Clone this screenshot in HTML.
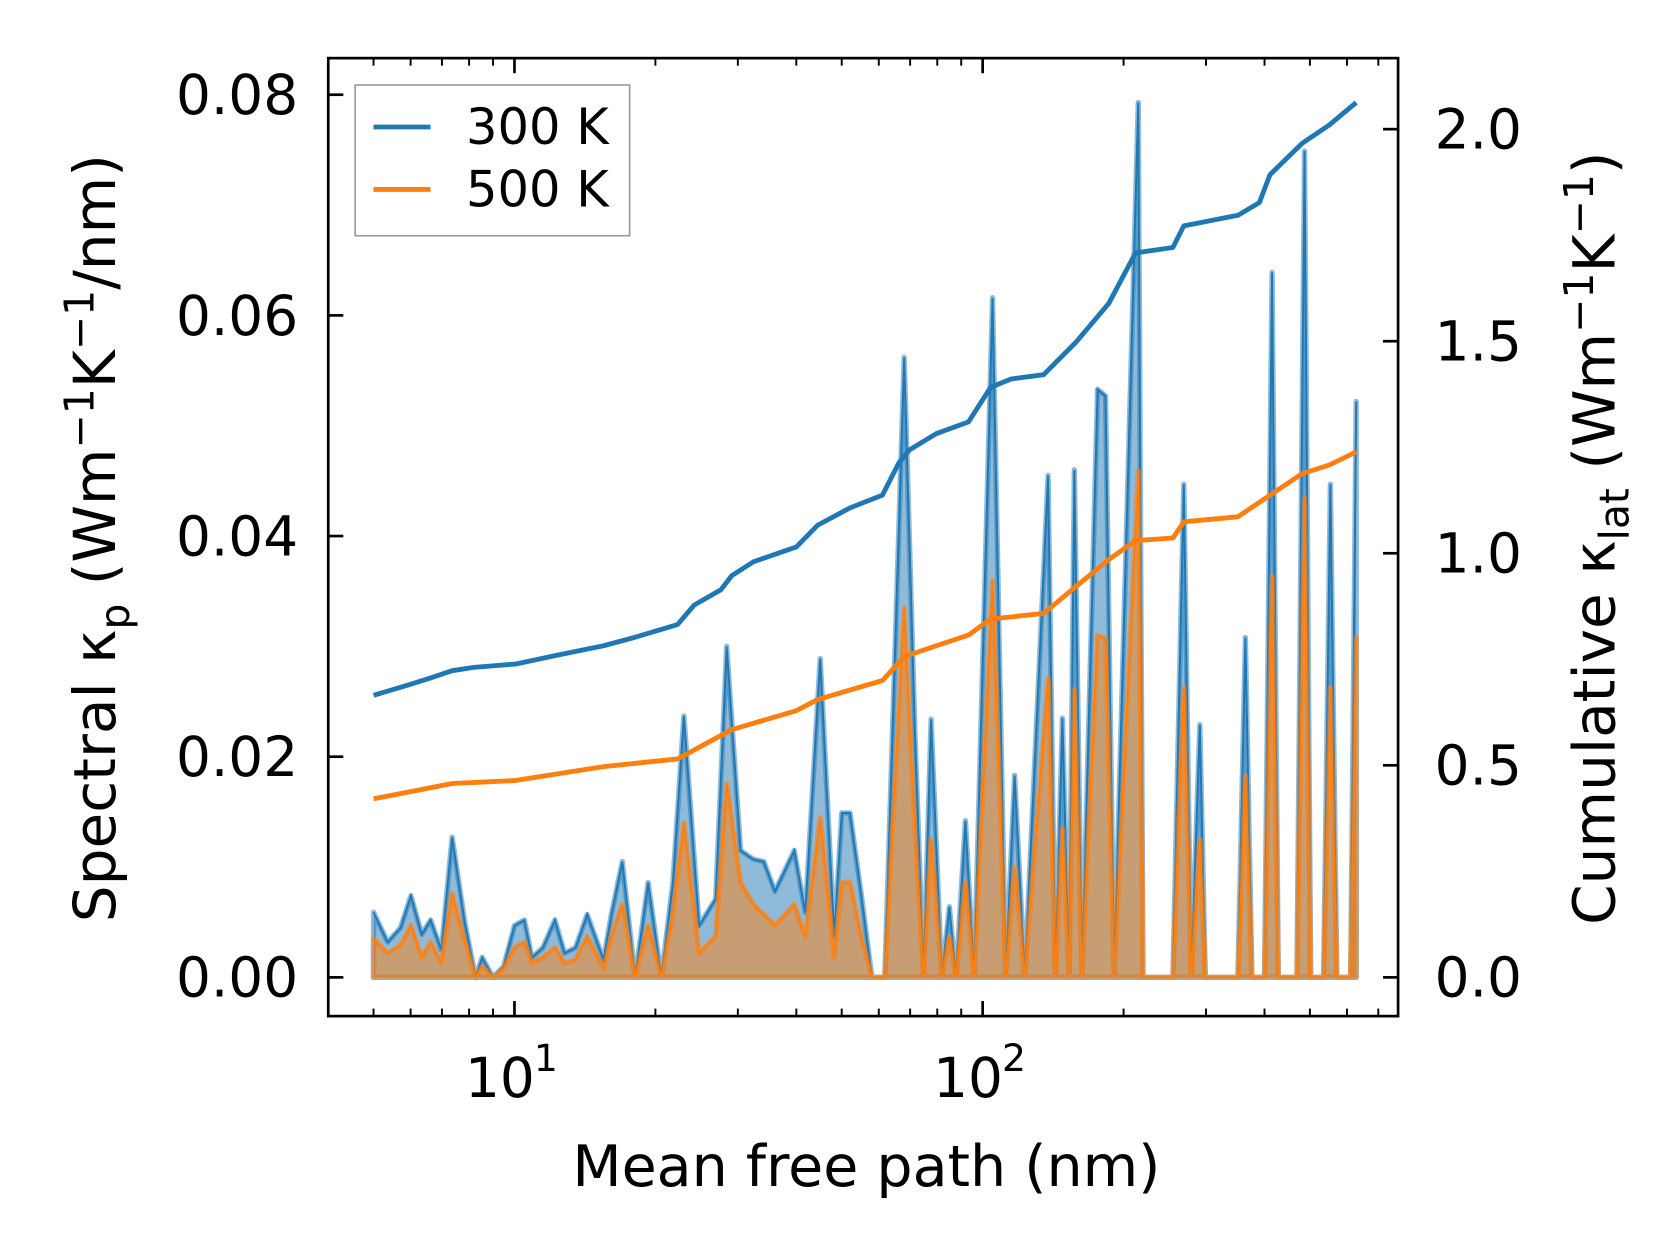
<!DOCTYPE html>
<html><head><meta charset="utf-8"><style>
html,body{margin:0;padding:0;background:#fff;}
svg{display:block;font-family:"DejaVu Sans","Liberation Sans",sans-serif;}
</style></head><body>
<svg id="chart" width="1679" height="1254" viewBox="0 0 1560 1165" preserveAspectRatio="none" xmlns="http://www.w3.org/2000/svg">
<rect width="1560" height="1165" fill="#fff"/>
<g id="plot"></g>
<rect x="305" y="54" width="994" height="890" fill="none" stroke="#000" stroke-width="2.5"/>
<g id="ticks"></g>
<text transform="translate(107,500) rotate(-90)" text-anchor="middle" font-size="54">Spectral κ<tspan font-size="38" dy="13">p</tspan><tspan dy="-13"> (Wm</tspan><tspan font-size="38" dy="-20">−1</tspan><tspan dy="20">K</tspan><tspan font-size="38" dy="-20">−1</tspan><tspan dy="20">/nm)</tspan></text>
<text transform="translate(1500,500) rotate(-90)" text-anchor="middle" font-size="54">Cumulative κ<tspan font-size="38" dy="13">lat</tspan><tspan dy="-13"> (Wm</tspan><tspan font-size="38" dy="-20">−1</tspan><tspan dy="20">K</tspan><tspan font-size="38" dy="-20">−1</tspan><tspan dy="20">)</tspan></text>
<text x="805" y="1102" text-anchor="middle" font-size="53">Mean free path (nm)</text>
<g>
<rect x="330" y="79" width="255" height="140" fill="#fff" fill-opacity="0.8" stroke="#999" stroke-width="1.5"/>
<line x1="347" y1="118" x2="400" y2="118" stroke="#1f77b4" stroke-width="4.5"/>
<text x="433" y="134" font-size="46">300 K</text>
<line x1="347" y1="176" x2="400" y2="176" stroke="#ff7f0e" stroke-width="4.5"/>
<text x="433" y="192" font-size="46">500 K</text>
</g>
</svg>
<script>
const specMfp=[5.00,5.36,5.71,6.01,6.34,6.62,6.98,7.36,7.84,8.26,8.53,9.00,9.48,10.0,10.5,10.9,11.5,12.2,12.8,13.5,14.3,15.5,16.1,17.0,18.1,19.3,20.6,21.8,23.0,24.8,26.9,28.4,30.4,32.4,34.1,36.0,39.6,41.8,45.0,48.2,50.0,52.1,55.0,58.0,61.8,68.0,71.6,74.8,77.6,81.8,84.9,87.7,91.9,95.9,105,112,117,123,138,143,148,153,157,163,176,183,191,215,220,255,269,279,291,299,351,364,376,400,415,428,469,487,502,535,553,571,611,628];
const spec300=[0.0059,0.0032,0.0045,0.0074,0.0039,0.0052,0.0025,0.0127,0.0049,0,0.0018,0,0.0010,0.0047,0.0052,0.0018,0.0027,0.0052,0.0022,0.0027,0.0057,0.0016,0.0057,0.0105,0,0.0086,0,0.0086,0.0237,0.0047,0.0071,0.0300,0.0115,0.0107,0.0105,0.0078,0.0115,0.0059,0.0289,0.0037,0.0149,0.0149,0.0076,0,0,0.0562,0.0228,0,0.0234,0,0.0064,0,0.0142,0,0.0616,0,0.0183,0,0.0455,0,0.0235,0,0.0460,0,0.0533,0.0527,0,0.0793,0,0,0.0447,0,0.0229,0,0,0.0308,0,0,0.0639,0,0,0.0749,0,0,0.0447,0,0,0.0522];
const spec500=[0.0035,0.0022,0.0029,0.0047,0.0018,0.0032,0.0013,0.0076,0.0032,0,0.0010,0,0.0008,0.0027,0.0032,0.0013,0.0018,0.0027,0.0013,0.0016,0.0037,0.0008,0.0037,0.0066,0,0.0047,0,0.0057,0.0140,0.0022,0.0037,0.0176,0.0086,0.0066,0.0057,0.0047,0.0066,0.0037,0.0145,0.0018,0.0086,0.0086,0.0037,0,0,0.0335,0.0135,0,0.0125,0,0.0037,0,0.0086,0,0.0360,0,0.0100,0,0.0271,0,0.0135,0,0.0261,0,0.0310,0.0307,0,0.0459,0,0,0.0263,0,0.0125,0,0,0.0183,0,0,0.0364,0,0,0.0434,0,0,0.0263,0,0,0.0308];
const cum300Mfp=[5.0,5.96,6.62,7.36,8.18,10.1,12.5,15.5,18.1,22.3,24.2,27.6,29.1,32.4,40.0,44.4,52.1,61.1,66.2,69.8,79.6,93.3,104,115,135,158,186,212,255,269,351,390,411,482,550,628];
const cum300=[0.665,0.690,0.706,0.723,0.731,0.739,0.761,0.782,0.802,0.832,0.878,0.914,0.947,0.980,1.015,1.066,1.107,1.137,1.213,1.244,1.282,1.310,1.391,1.411,1.421,1.497,1.589,1.708,1.721,1.772,1.797,1.827,1.893,1.967,2.010,2.063];
const cum500Mfp=[5.0,7.36,10.0,15.5,22.3,29.1,40.0,44.4,61.1,68.0,79.6,93.3,104,135,158,186,212,255,269,351,411,482,550,628];
const cum500=[0.421,0.457,0.464,0.497,0.515,0.584,0.629,0.655,0.700,0.756,0.782,0.807,0.845,0.858,0.921,0.985,1.030,1.036,1.074,1.086,1.137,1.188,1.208,1.239];
const leftTicks=[0,0.02,0.04,0.06,0.08];
const leftTickLabels=["0.00","0.02","0.04","0.06","0.08"];
const rightTicks=[0,0.5,1,1.5,2];
const rightTickLabels=["0.0","0.5","1.0","1.5","2.0"];

const NS="http://www.w3.org/2000/svg";
const X=v=>478+(Math.log10(v)-1)*435;
const YL=v=>908-v*10250;
const YR=v=>908-v*394;
const plot=document.getElementById('plot'), tk=document.getElementById('ticks');
function mk(tag,attrs,parent){const e=document.createElementNS(NS,tag);for(const k in attrs)e.setAttribute(k,attrs[k]);parent.appendChild(e);return e;}
function pts(xs,ys,fy){return xs.map((x,i)=>X(x).toFixed(1)+','+fy(ys[i]).toFixed(1)).join(' ');}
function area(xs,ys,color,name){
  const p=pts(xs,ys,YL);
  const poly=mk('polygon',{points:X(xs[0])+','+YL(0)+' '+p+' '+X(xs[xs.length-1])+','+YL(0),fill:color,'fill-opacity':0.5,stroke:color,'stroke-opacity':0.5,'stroke-width':5,'stroke-linejoin':'round'},plot);
  
  
  const ln=mk('polyline',{points:p,fill:'none',stroke:color,'stroke-width':1.8},plot);
  
  
}
area(specMfp,spec300,'#1f77b4','spectral-300k');
area(specMfp,spec500,'#ff7f0e','spectral-500k');
const c3=mk('polyline',{points:pts(cum300Mfp,cum300,YR),fill:'none',stroke:'#1f77b4','stroke-width':4.5,'stroke-linejoin':'round'},plot);


const c5=mk('polyline',{points:pts(cum500Mfp,cum500,YR),fill:'none',stroke:'#ff7f0e','stroke-width':4.5,'stroke-linejoin':'round'},plot);



leftTicks.forEach((v,i)=>{
  mk('line',{x1:305,x2:319,y1:YL(v),y2:YL(v),stroke:'#000','stroke-width':2.5},tk);
  const t=mk('text',{x:277,y:YL(v)+18,'text-anchor':'end','font-size':51},tk);
  t.textContent=leftTickLabels[i];
  
  
});
rightTicks.forEach((v,i)=>{
  mk('line',{x1:1285,x2:1299,y1:YR(v),y2:YR(v),stroke:'#000','stroke-width':2.5},tk);
  const t=mk('text',{x:1333,y:YR(v)+18,'text-anchor':'start','font-size':51},tk);
  t.textContent=rightTickLabels[i];
  
  
});
[10,100].forEach((v,i)=>{
  [[944,930],[54,68]].forEach(([a,b])=>mk('line',{x1:X(v),x2:X(v),y1:a,y2:b,stroke:'#000','stroke-width':2.5},tk));
  const t=mk('text',{x:X(v)-46,y:1019,'font-size':51},tk);
  t.textContent='10';
  
  
  const s=mk('text',{x:X(v)+18,y:995,'font-size':35},tk);
  s.textContent=String(i+1);
});
[5,6,7,8,9,20,30,40,50,60,70,80,90,200,300,400,500,600,700].forEach(v=>{
  [[944,937],[54,61]].forEach(([a,b])=>mk('line',{x1:X(v),x2:X(v),y1:a,y2:b,stroke:'#000','stroke-width':1.8},tk));
});
</script>
</body></html>
